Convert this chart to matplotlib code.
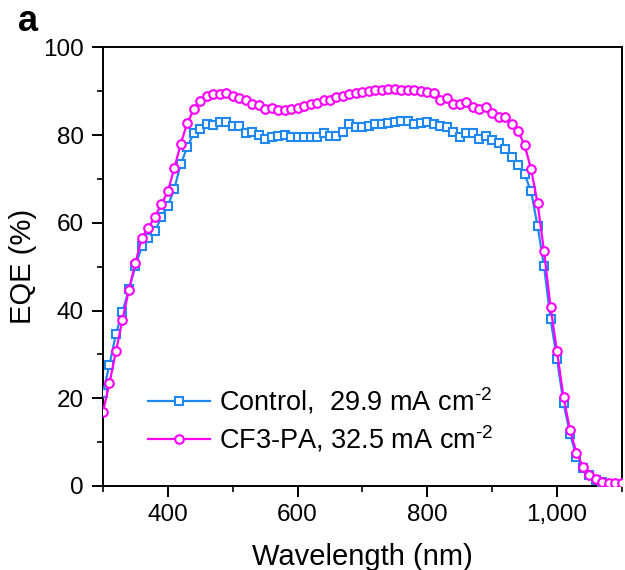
import matplotlib
matplotlib.use("Agg")
import matplotlib.pyplot as plt
from matplotlib.ticker import MultipleLocator, FuncFormatter
import numpy as np

plt.rcParams['font.family'] = ['Liberation Sans', 'DejaVu Sans']
plt.rcParams['mathtext.fontset'] = 'custom'
plt.rcParams['mathtext.rm'] = 'Liberation Sans'
plt.rcParams['mathtext.it'] = 'Liberation Sans'

wavelength = list(range(300, 1101, 10))

control = [21.2, 27.7, 34.7, 39.7, 44.9, 50.1, 54.7, 56.6, 58.1, 61.3,
           63.9, 67.8, 73.5, 77.3, 80.5, 81.5, 82.5, 82.3, 83.1, 82.9,
           82.1, 82.1, 80.6, 80.8, 80.0, 79.1, 79.6, 79.7, 80.1, 79.6,
           79.6, 79.6, 79.6, 79.6, 80.6, 79.9, 79.9, 80.8, 82.5, 81.8,
           81.8, 82.0, 82.5, 82.5, 82.8, 83.1, 83.3, 83.2, 82.5, 82.7,
           83.1, 82.5, 82.2, 81.9, 80.7, 79.6, 80.4, 80.6, 79.1, 79.7,
           78.9, 78.2, 76.9, 75.1, 73.3, 71.1, 67.2, 59.3, 50.1, 38.1,
           28.9, 18.9, 11.9, 6.7, 4.0, 2.4, 1.3, 0.9, 0.5, 0.3, 0.2]

cf3pa = [16.9, 23.5, 30.7, 37.9, 44.8, 50.9, 56.6, 58.9, 61.4, 64.2,
         67.2, 72.5, 78.1, 82.8, 85.9, 87.9, 88.9, 89.5, 89.5, 89.6,
         88.9, 88.5, 88.1, 87.2, 86.8, 86.0, 86.2, 85.8, 85.8, 86.0,
         86.1, 86.6, 87.0, 87.4, 88.0, 88.1, 88.8, 89.0, 89.5, 89.7,
         89.9, 90.1, 90.3, 90.2, 90.5, 90.6, 90.3, 90.3, 90.4, 90.1,
         89.8, 89.6, 88.1, 88.5, 87.1, 87.1, 87.5, 86.4, 86.0, 86.5,
         85.0, 84.2, 84.1, 82.5, 81.0, 77.7, 72.3, 64.5, 53.5, 40.8,
         30.7, 20.3, 12.8, 7.6, 4.4, 2.5, 1.5, 0.9, 0.7, 0.6, 0.6]

labels = [r'Control,  29.9 mA cm$^{\text{-}2}$', r'CF3-PA, 32.5 mA cm$^{\text{-}2}$']
colors = ['#1E88F0', '#FF00FF']

fig = plt.figure(figsize=(6.25, 5.7), dpi=100)
ax = fig.add_axes([0.1648, 0.1474, 0.8302, 0.7693])

ax.plot(wavelength, control, color=colors[0], lw=1.6, marker='s', ms=5.3,
        mfc='white', mec=colors[0], mew=1.5, label=labels[0], zorder=3)
ax.plot(wavelength, cf3pa, color=colors[1], lw=1.6, marker='o', ms=6.2,
        mfc='white', mec=colors[1], mew=1.5, label=labels[1], zorder=4)

ax.set_xlim(300, 1100)
ax.set_ylim(0, 100)
ax.xaxis.set_minor_locator(MultipleLocator(100))
ax.yaxis.set_major_locator(MultipleLocator(20))
ax.yaxis.set_minor_locator(MultipleLocator(10))
ax.set_xticks([400, 600, 800, 1000])
ax.xaxis.set_major_formatter(FuncFormatter(lambda v, p: f'{int(v):,}'))

for s in ax.spines.values():
    s.set_linewidth(1.4)
ax.tick_params(which='major', direction='out', length=8, width=1.4, labelsize=17.5)
ax.tick_params(axis='y', which='major', pad=6)
ax.tick_params(axis='x', which='major', pad=5)
ax.tick_params(which='minor', direction='out', length=4, width=1.2)

ax.set_xlabel('Wavelength (nm)', fontsize=21, labelpad=12)
ax.set_ylabel('EQE (%)', fontsize=21, labelpad=4)

leg = ax.legend(loc='upper left', bbox_to_anchor=(0.087, 0.229), frameon=False,
                fontsize=19.5, handlelength=2.3, handletextpad=0.3, labelspacing=0.28,
                borderpad=0, borderaxespad=0)

fig.text(0.029, 0.962, 'a', fontsize=26, fontweight='bold', ha='left', va='center')

fig.savefig('out.png', dpi=100)
